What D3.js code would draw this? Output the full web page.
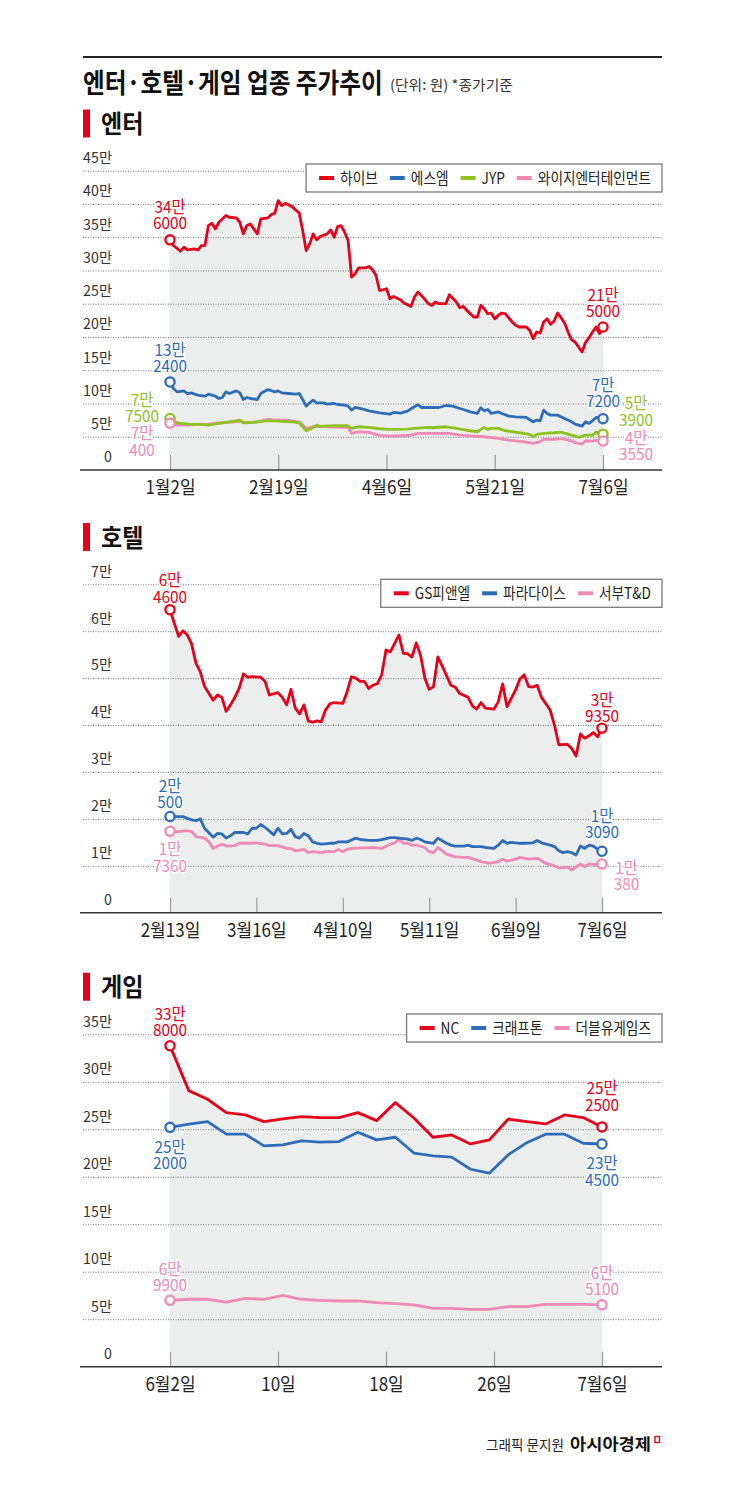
<!DOCTYPE html>
<html><head><meta charset="utf-8">
<script src="https://cdn.jsdelivr.net/npm/d3@7/dist/d3.min.js"></script>
<style>
body{margin:0;background:#fff}
svg{display:block}
text{font-family:"Noto Sans CJK KR","Noto Sans",sans-serif}
</style>
</head><body>
<svg id="c" width="745" height="1497"></svg>
<script>
// ---------------- DATA ----------------
// 엔터 (x = trading-day index 0..124, 1/2 → 7/6)
const enterTicks = ["1월2일","2월19일","4월6일","5월21일","7월6일"];
const enterYTicks = [0,50000,100000,150000,200000,250000,300000,350000,400000,450000];
const enterNames = ["하이브","에스엠","JYP","와이지엔터테인먼트"];
const hybe = [[0,346000],[1,337500],[3,329000],[4,335000],[5,331000],[7,332500],[8,331000],[9,337500],[10,337500],[11,367500],[12,371000],[13,362500],[14,372500],[16,382500],[17,380000],[19,379000],[20,372500],[21,355000],[22,367500],[23,370000],[24,362500],[25,355000],[26,377500],[28,379000],[29,384000],[30,386000],[31,405000],[32,397500],[33,401000],[35,396000],[36,391000],[37,386500],[38,360000],[39,330000],[40,340000],[41,355000],[42,346000],[43,351000],[45,355000],[46,361000],[47,350000],[48,366000],[49,367500],[50,357500],[51,345000],[52,290000],[53,295000],[54,304000],[56,304000],[57,306000],[58,301000],[59,292500],[60,270000],[61,271000],[62,272500],[63,257500],[64,261000],[66,256000],[67,251000],[69,246000],[70,260000],[71,267500],[72,262500],[74,250000],[75,247500],[76,252500],[77,250000],[79,250000],[80,263500],[82,252500],[83,244000],[84,246000],[85,240000],[87,230000],[88,230000],[89,247500],[90,242500],[91,235000],[92,236000],[93,227500],[94,232500],[95,236000],[96,235000],[98,222500],[99,217500],[100,215000],[102,215000],[103,210000],[104,197500],[105,207500],[106,206000],[107,222500],[108,227500],[109,219000],[110,224000],[111,236000],[112,229000],[113,221000],[114,207500],[115,196000],[116,192500],[117,185000],[118,177500],[119,192000],[120,199000],[121,207500],[122,215000],[123,205000],[124,215000]];
const sm = [[0,132400],[1,122500],[2,117500],[4,119000],[5,115000],[6,116000],[8,112500],[10,111000],[11,114000],[13,111000],[14,107500],[15,109000],[16,117500],[17,115000],[19,119000],[20,116000],[21,106000],[22,109000],[23,107500],[25,106000],[26,115000],[28,121000],[30,117500],[31,119000],[32,116000],[34,115000],[36,114000],[37,115000],[38,106000],[39,96000],[40,101000],[41,105000],[42,101000],[44,101000],[45,99000],[47,100000],[48,98500],[50,97500],[51,96000],[52,90000],[53,94000],[55,92000],[57,89000],[60,86000],[63,84000],[64,86500],[66,85500],[68,88500],[69,92000],[71,98000],[72,94000],[74,94000],[77,94000],[79,97000],[81,96000],[83,92500],[84,91000],[86,87500],[88,85000],[89,93500],[90,89000],[91,91000],[92,85000],[94,87500],[95,85000],[97,81000],[99,80000],[102,79000],[104,72500],[105,75000],[106,74000],[107,90000],[108,85000],[109,82500],[111,82500],[113,77500],[115,72500],[116,69000],[118,66000],[119,72500],[120,70000],[121,74000],[122,79000],[124,77200]];
const jyp = [[0,77500],[1,72500],[3,70000],[6,68500],[9,68500],[11,67500],[14,70000],[17,72500],[20,75000],[21,71000],[24,71500],[27,74000],[30,74000],[32,73000],[35,72500],[37,71000],[38,65000],[39,59000],[41,64000],[42,67500],[43,65000],[44,66000],[47,66500],[51,66500],[52,62500],[54,65000],[57,64000],[60,62000],[63,61000],[68,61500],[70,62500],[74,64000],[75,63500],[79,65000],[82,62500],[86,59000],[88,57500],[90,64000],[91,61000],[92,62500],[94,62500],[96,59000],[100,56000],[103,53500],[104,50000],[105,53500],[107,55000],[110,56000],[112,57000],[114,54000],[116,51000],[117,49000],[119,52500],[121,52500],[122,57000],[124,53900]];
const yg = [[0,70400],[2,67500],[5,67500],[8,68500],[11,69000],[14,71000],[17,71500],[20,73500],[22,71000],[25,72500],[28,76000],[30,75000],[33,75000],[37,72500],[38,67500],[39,62500],[41,65000],[43,66000],[45,65000],[49,64000],[51,64000],[52,55000],[54,57500],[57,56500],[60,52000],[63,51000],[66,51500],[69,52500],[71,55000],[75,55000],[80,55000],[83,52500],[87,51000],[90,50000],[94,47500],[97,45000],[101,42500],[104,40000],[106,42500],[107,46000],[110,46000],[112,47000],[115,44000],[116,41000],[118,39000],[119,44000],[121,43500],[122,45000],[124,43550]];

// 호텔 (x = trading-day index 0..100, 2/13 → 7/6)
const hotelTicks = ["2월13일","3월16일","4월10일","5월11일","6월9일","7월6일"];
const hotelYTicks = [0,10000,20000,30000,40000,50000,60000,70000];
const hotelNames = ["GS피앤엘","파라다이스","서부T&D"];
const gspnl = [[0,64600],[1,61700],[2,58900],[3,60100],[4,59200],[5,57300],[6,53200],[7,51400],[8,48200],[10,45300],[11,46400],[12,45900],[13,42900],[14,44300],[15,45900],[16,47800],[17,50900],[18,50200],[19,50300],[21,50200],[22,49300],[23,46400],[25,46900],[26,45900],[27,44300],[28,47600],[29,43600],[30,42400],[31,44300],[32,40900],[33,40600],[34,40900],[35,40700],[36,43200],[37,44500],[38,44800],[40,44600],[41,47100],[42,50300],[43,50000],[44,49300],[45,49300],[46,47800],[47,48500],[48,48800],[49,50700],[50,56000],[51,55600],[53,59200],[54,55300],[55,55200],[56,54500],[57,57500],[58,54900],[59,50000],[60,47600],[61,48200],[62,54500],[63,52600],[65,48500],[66,48100],[67,46800],[69,45900],[70,44100],[71,43400],[72,44800],[73,43600],[75,43400],[76,45000],[77,48800],[78,43900],[80,47500],[81,49800],[82,50700],[83,48200],[84,48100],[85,48500],[86,45900],[88,43200],[89,40000],[90,35800],[92,35900],[93,35000],[94,33400],[95,38100],[96,37200],[97,37700],[98,38400],[99,37500],[100,39350]];
const paradise = [[0,20500],[1,20500],[3,20500],[4,20100],[5,19800],[6,19600],[7,20000],[8,18000],[10,16100],[11,16900],[12,16800],[13,15900],[14,16400],[15,17100],[17,17100],[18,16800],[19,18000],[20,18000],[21,18800],[22,18200],[24,16600],[25,18000],[26,16800],[27,16900],[28,17800],[29,16200],[30,15900],[31,16900],[32,16400],[33,15100],[34,14800],[35,14600],[37,14800],[38,14800],[39,15100],[41,15100],[42,15500],[43,15900],[44,15600],[46,15400],[48,15400],[49,15600],[51,16000],[52,16000],[55,15700],[56,15400],[57,15900],[58,15600],[59,15100],[61,14800],[62,15900],[64,14800],[65,14400],[66,14200],[68,14200],[69,14400],[70,14100],[72,14100],[73,13900],[75,13700],[76,14400],[77,15400],[78,14800],[79,15000],[81,14800],[82,14800],[84,14900],[85,15400],[86,14900],[88,14400],[89,14100],[90,13200],[91,12800],[92,13000],[93,12800],[94,12300],[95,14200],[96,13700],[97,14400],[98,14200],[99,13500],[100,13090]];
const seobu = [[0,17360],[2,17300],[4,17500],[5,17300],[6,16200],[8,15900],[9,15100],[10,13700],[11,14200],[12,14600],[13,14200],[15,14300],[16,14800],[18,14800],[20,14900],[22,14600],[23,14300],[25,14300],[27,13700],[28,13700],[29,13200],[31,13500],[32,12800],[33,13000],[35,12800],[36,13000],[38,13000],[39,13500],[40,13000],[41,13500],[42,13700],[45,13800],[47,13900],[49,13700],[51,14600],[52,14900],[53,15600],[54,14800],[55,14800],[56,14400],[57,14400],[59,13900],[60,13000],[61,12800],[62,13900],[64,12500],[66,11900],[68,11800],[69,11800],[71,11200],[72,10900],[74,10500],[76,10900],[77,11400],[78,11000],[80,11400],[81,11800],[83,11400],[85,11600],[87,10500],[89,10000],[90,9500],[92,9700],[93,9100],[95,10400],[96,9800],[97,10400],[98,10300],[100,10380]];

// 게임 (x = trading-day index 0..23, 6/2 → 7/6)
const gameTicks = ["6월2일","10일","18일","26일","7월6일"];
const gameYTicks = [0,50000,100000,150000,200000,250000,300000,350000];
const gameNames = ["NC","크래프톤","더블유게임즈"];
const nc = [338000,290700,281600,267500,265100,258100,260900,263300,262300,262300,267500,259100,278100,261600,241600,244000,234600,238800,260600,258100,255600,265100,262300,252500];
const krafton = [252000,255300,258100,244800,244800,232500,233500,237700,236400,237000,246900,238800,241600,224800,221900,220600,207900,203700,223000,235900,244800,244800,235300,234500];
const doubleu = [69900,71000,71000,68100,72000,71000,75200,71000,69900,69200,69200,67400,66400,65000,61500,61500,60400,60400,63200,63200,65700,65700,65700,65100];

// ---------------- DRAWING ----------------
const RED="#e60019", BLUE="#2e6cb5", GREEN="#8fc21f", PINK="#ef8ab4";
const L=83, R=662, X0=170;
const svg=d3.select("#c");
svg.append("rect").attr("width",745).attr("height",1497).attr("fill","#fff");

function txt(parent,x,y,s,o={}){
  const t=parent.append("text")
    .attr("font-size",o.size||14).attr("font-weight",o.weight||400)
    .attr("fill",o.fill||"#222").attr("text-anchor",o.anchor||"start").text(s);
  let sx=o.sx||1;
  if(o.fit){ sx=o.fit/t.node().getComputedTextLength(); }
  t.attr("transform",`translate(${x},${y}) scale(${sx},1)`);
  return t;
}
const fmtY=v=>v===0?"0":(v/10000)+"만";
const splitVal=v=>[Math.floor(v/10000)+"만", String(v%10000)];

// header
svg.append("line").attr("x1",L).attr("x2",R).attr("y1",57).attr("y2",57).attr("stroke","#222").attr("stroke-width",2);
txt(svg,83,92.5,"엔터·호텔·게임 업종 주가추이",{size:27,weight:700,fill:"#111",fit:300});
txt(svg,390,89.5,"(단위: 원) *종가기준",{size:14,fill:"#333",fit:123});

function panel(p){
  const g=svg.append("g");
  const y=d3.scaleLinear().domain([0,p.yMax]).range([p.y0,p.yTop]);
  const x=d3.scaleLinear().domain([0,p.n]).range([X0,p.x1]);
  const xt=d3.scalePoint().domain(p.ticks).range([X0,p.x1]);
  // section header
  g.append("rect").attr("x",L).attr("y",p.head).attr("width",7).attr("height",28).attr("fill",RED);
  txt(g,101,p.head+23.5,p.title,{size:24.5,weight:700,fill:"#111",fit:42.5});
  // area under main series
  g.append("path").datum(p.series[0].data).attr("fill","#eceeee")
    .attr("d",d3.area().x(d=>x(d[0])).y0(y(0)).y1(d=>y(d[1])));
  // grid
  const grid=g.append("g").attr("transform",`translate(${L},0)`)
    .call(d3.axisRight(y).tickValues(p.yTicks.filter(v=>v>0)).tickSize(R-L).tickFormat(""));
  grid.select(".domain").remove();
  grid.selectAll("line").attr("stroke","#777").attr("stroke-dasharray","1,1.5");
  // y labels
  const yl=g.append("g").attr("transform","translate(112,-13)")
    .call(d3.axisLeft(y).tickValues(p.yTicks).tickSize(0).tickPadding(0).tickFormat(fmtY));
  yl.select(".domain").remove();
  yl.attr("font-family",null).attr("font-size",null);
  yl.selectAll("text").attr("font-size",15).attr("fill","#333").attr("transform","scale(0.95,1)");
  // x ticks (upward)
  const tk=g.append("g").attr("transform",`translate(0,${p.y0})`).call(d3.axisTop(xt).tickSize(15).tickFormat(""));
  tk.select(".domain").remove();
  tk.selectAll("line").attr("stroke","#9a9a9a").attr("stroke-width",1.2);
  // x labels
  const xl=g.append("g").attr("transform",`translate(0,${p.y0})`).call(d3.axisBottom(xt).tickSize(0).tickPadding(11));
  xl.select(".domain").remove();
  xl.attr("font-family",null).attr("font-size",null);
  xl.selectAll("text").attr("font-size",18.5).attr("fill","#222").attr("transform","scale(0.92,1)");
  // axis line
  g.append("line").attr("x1",L-3).attr("x2",R).attr("y1",p.y0).attr("y2",p.y0).attr("stroke","#333").attr("stroke-width",1.6);
  // lines
  const line=d3.line().x(d=>x(d[0])).y(d=>y(d[1]));
  p.series.slice().reverse().forEach(s=>{
    g.append("path").datum(s.data).attr("fill","none").attr("stroke",s.color)
      .attr("stroke-width",2.8).attr("stroke-linejoin","round").attr("stroke-linecap","round").attr("d",line);
  });
  // markers & labels
  p.series.forEach(s=>{
    [[s.data[0],s.startLab],[s.data[s.data.length-1],s.endLab]].forEach(([d,lab])=>{
      const mx=x(d[0]), my=y(d[1]);
      g.append("circle").attr("cx",mx).attr("cy",my).attr("r",4.6).attr("fill","#fff")
        .attr("stroke",s.color).attr("stroke-width",2.3);
      const [a,b]=splitVal(d[1]);
      const t=g.append("text").attr("transform",`translate(${mx+lab[0]},${my+lab[1]}) scale(0.93,1)`)
        .attr("font-size",16.5).attr("fill",s.color).attr("text-anchor","middle")
        .attr("stroke","#fff").attr("stroke-width",3).attr("paint-order","stroke").attr("stroke-linejoin","round");
      t.append("tspan").attr("x",0).attr("y",0).text(a);
      t.append("tspan").attr("x",0).attr("dy",16.4).text(b);
    });
  });
  // legend
  const lg=g.append("g");
  const box=lg.append("rect");
  const LSX=0.855;
  const items=p.series.map(s=>{
    const t=txt(lg,0,0,s.name,{size:16,fill:"#222",sx:LSX});
    return {s,t,w:t.node().getComputedTextLength()*LSX};
  });
  let cur=R-11; let first=0;
  const cy=p.legY+14;
  for(let i=items.length-1;i>=0;i--){
    const it=items[i];
    const ts=cur-it.w;
    it.t.attr("transform",`translate(${ts},${cy+5.8}) scale(${LSX},1)`);
    const de=ts-6, ds=de-15;
    lg.append("line").attr("x1",ds).attr("x2",de).attr("y1",cy).attr("y2",cy)
      .attr("stroke",it.s.color).attr("stroke-width",4);
    cur=ds-12; first=ds;
  }
  box.attr("x",first-13).attr("y",p.legY).attr("width",R-(first-13)).attr("height",28)
    .attr("fill","#fff").attr("stroke","#7a7a7a").attr("stroke-width",1.3);
}

const idx=a=>a.map((v,i)=>[i,v]);

panel({title:"엔터",head:109.5,y0:470,yTop:170.7,yMax:450000,n:124,x1:603,
  ticks:enterTicks,yTicks:enterYTicks,legY:164,
  series:[
    {name:enterNames[0],color:RED,data:hybe,startLab:[0,-27],endLab:[0,-26]},
    {name:enterNames[1],color:BLUE,data:sm,startLab:[0,-26],endLab:[0,-28]},
    {name:enterNames[2],color:GREEN,data:jyp,startLab:[-28,-12.5],endLab:[33,-25]},
    {name:enterNames[3],color:PINK,data:yg,startLab:[-28,16],endLab:[33,3]}
  ]});

panel({title:"호텔",head:523,y0:912.7,yTop:584.3,yMax:70000,n:100,x1:602,
  ticks:hotelTicks,yTicks:hotelYTicks,legY:579.3,
  series:[
    {name:hotelNames[0],color:RED,data:gspnl,startLab:[0,-23.5],endLab:[0,-22.5]},
    {name:hotelNames[1],color:BLUE,data:paradise,startLab:[0,-25],endLab:[0,-29.5]},
    {name:hotelNames[2],color:PINK,data:seobu,startLab:[0,24],endLab:[24.5,9.5]}
  ]});

panel({title:"게임",head:972.7,y0:1366.7,yTop:1034.3,yMax:350000,n:23,x1:602,
  ticks:gameTicks,yTicks:gameYTicks,legY:1014,
  series:[
    {name:gameNames[0],color:RED,data:idx(nc),startLab:[0,-26],endLab:[0,-32.5]},
    {name:gameNames[1],color:BLUE,data:idx(krafton),startLab:[0,25.5],endLab:[0,25.5]},
    {name:gameNames[2],color:PINK,data:idx(doubleu),startLab:[0,-25.3],endLab:[0,-26.3]}
  ]});

// footer
txt(svg,486,1449.5,"그래픽 문지원",{size:14,fill:"#222",fit:78});
txt(svg,570,1450,"아시아경제",{size:16,weight:700,fill:"#111",fit:81});
svg.append("rect").attr("x",655).attr("y",1436.5).attr("width",4.5).attr("height",6)
  .attr("fill","none").attr("stroke",RED).attr("stroke-width",1.4);
</script>
</body></html>
